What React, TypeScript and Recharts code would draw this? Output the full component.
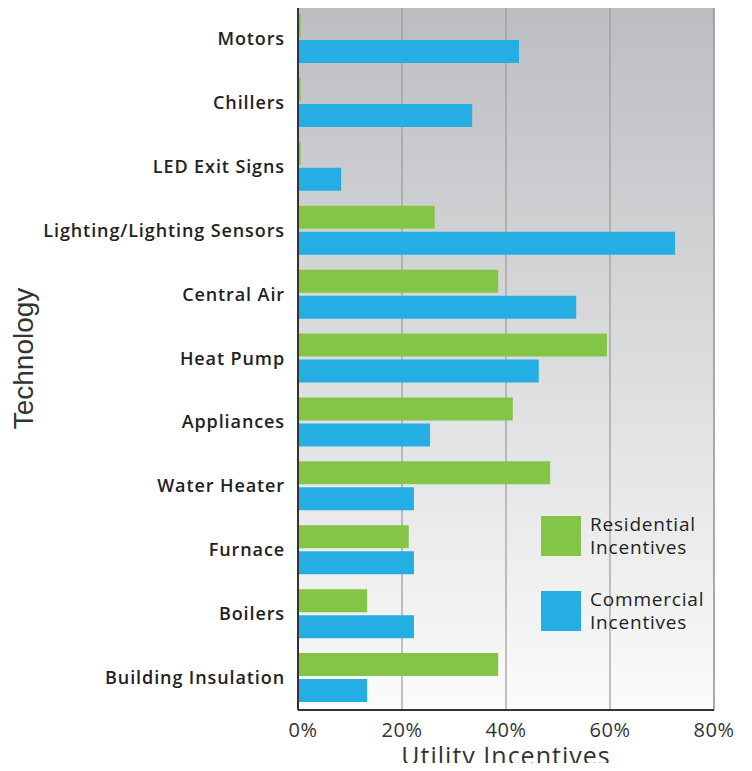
import React from "react";
import { BarChart, Bar, XAxis, YAxis, CartesianGrid, Legend, ReferenceLine } from "recharts";

const categories = [
  "Motors",
  "Chillers",
  "LED Exit Signs",
  "Lighting/Lighting Sensors",
  "Central Air",
  "Heat Pump",
  "Appliances",
  "Water Heater",
  "Furnace",
  "Boilers",
  "Building Insulation",
];
const residential = [0.5, 0.5, 0.5, 26.3, 38.5, 59.4, 41.3, 48.5, 21.3, 13.3, 38.5];
const commercial = [42.5, 33.5, 8.3, 72.5, 53.5, 46.3, 25.4, 22.3, 22.3, 22.3, 13.3];
const xTicks = [0, 20, 40, 60, 80];

const data = categories.map((name, i) => ({
  name,
  residential: residential[i],
  commercial: commercial[i],
}));

const GREEN = "#84c446";
const BLUE = "#25aee3";
const FONT = "'Open Sans', sans-serif";

const YTick = (props: any) => {
  const { x, y, payload } = props;
  return (
    <text
      x={x - 5}
      y={y}
      dy={6}
      textAnchor="end"
      fontFamily={FONT}
      fontWeight={600}
      fontSize={18}
      letterSpacing={0.9}
      fill="#222"
    >
      {payload.value}
    </text>
  );
};

const XTick = (props: any) => {
  const { x, y, payload } = props;
  const dx = payload.value === 0 ? 5 : 0;
  return (
    <text x={x + dx} y={y + 19} textAnchor="middle" fontFamily={FONT} fontSize={20} letterSpacing={0.5} fill="#333">
      {`${payload.value}%`}
    </text>
  );
};

const XLabel = (props: any) => {
  const vb = props.viewBox || { x: 0, y: 0, width: 0, height: 0 };
  return (
    <text
      x={vb.x + vb.width / 2}
      y={vb.y + 55}
      textAnchor="middle"
      fontFamily={FONT}
      fontSize={25}
      letterSpacing={1}
      fill="#333"
    >
      Utility Incentives
    </text>
  );
};

const TechLabel = (props: any) => {
  const vb = props.viewBox || { x: 0, y: 0, width: 0, height: 0 };
  const cx = 33;
  const cy = vb.y + vb.height / 2;
  return (
    <text
      x={cx}
      y={cy}
      transform={`rotate(-90, ${cx}, ${cy})`}
      textAnchor="middle"
      fontFamily="'Liberation Sans Narrow', 'Arial Narrow', sans-serif"
      fontSize={28}
      fill="#333"
    >
      Technology
    </text>
  );
};

const LegendContent = () => (
  <div style={{ fontFamily: FONT, fontSize: 19, letterSpacing: 0.8, color: "#222", fontWeight: 500 }}>
    {[
      { c: GREEN, t: ["Residential", "Incentives"] },
      { c: BLUE, t: ["Commercial", "Incentives"] },
    ].map((it, i) => (
      <div key={i} style={{ display: "flex", alignItems: "center", marginBottom: i === 0 ? 29 : 0 }}>
        <div style={{ width: 40, height: 40, background: it.c, marginRight: 9, flexShrink: 0 }} />
        <div style={{ lineHeight: "23px", whiteSpace: "nowrap" }}>
          {it.t[0]}
          <br />
          {it.t[1]}
        </div>
      </div>
    ))}
  </div>
);

export default function App() {
  return (
    <div style={{ margin: -8, width: 752, height: 771, background: "#fff" }}>
      <BarChart
        width={752}
        height={771}
        data={data}
        layout="vertical"
        margin={{ top: 7, right: 38, bottom: 31, left: 0 }}
        barSize={23}
        barGap={3}
      >
        <defs>
          <linearGradient id="bg" x1="0" y1="0" x2="0" y2="1">
            <stop offset="0%" stopColor="#bcbdc1" />
            <stop offset="100%" stopColor="#fbfbfb" />
          </linearGradient>
        </defs>
        <CartesianGrid
          horizontal={false}
          vertical={true}
          stroke="#9a9a9a"
          strokeWidth={1.2}
          fill="url(#bg)"
          fillOpacity={1}
        />
        <XAxis
          type="number"
          domain={[0, 80]}
          ticks={xTicks}
          tick={<XTick />}
          tickLine={false}
          axisLine={{ stroke: "#333", strokeWidth: 2 }}
          height={30}
          label={<XLabel />}
        />
        <YAxis
          type="category"
          dataKey="name"
          width={298}
          tick={<YTick />}
          tickLine={false}
          axisLine={{ stroke: "#333", strokeWidth: 2 }}
          interval={0}
          label={<TechLabel />}
        />
        <ReferenceLine x={80} stroke="#9a9a9a" strokeWidth={1.2} />
        <Legend
          content={<LegendContent />}
          wrapperStyle={{ position: "absolute", left: 541, top: 513, width: 200, height: 0, overflow: "visible" }}
        />
        <Bar dataKey="residential" fill={GREEN} isAnimationActive={false} />
        <Bar dataKey="commercial" fill={BLUE} isAnimationActive={false} />
      </BarChart>
    </div>
  );
}
